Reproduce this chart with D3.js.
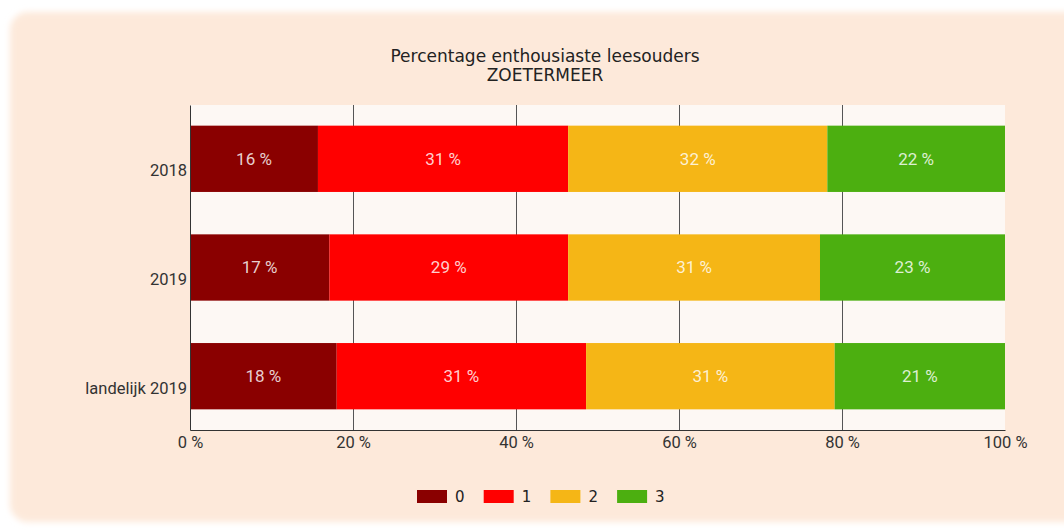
<!DOCTYPE html>
<html>
<head>
<meta charset="utf-8">
<script src="https://cdn.jsdelivr.net/npm/d3@7"></script>
<style>
  body { margin: 0; background: #fff; }
  svg { display: block; }
</style>
</head>
<body>
<div id="viz"></div>
<script>
const categories = ["2018", "2019", "landelijk 2019"];
const seriesKeys = ["0", "1", "2", "3"];
const score0 = [15.7, 17.1, 18.0];
const score1 = [30.7, 29.3, 30.6];
const score2 = [31.8, 30.9, 30.5];
const score3 = [21.8, 22.7, 20.9];
const xTicks = [0, 20, 40, 60, 80, 100];
const titleLines = ["Percentage enthousiaste leesouders", "ZOETERMEER"];

const colors = ["#8a0000", "#ff0000", "#f5b616", "#4caf10"];

const width = 1064, height = 531;
const margin = { top: 105, right: 59, bottom: 101, left: 190 };

const rows = categories.map((c, i) => ({
    cat: c, "0": score0[i], "1": score1[i], "2": score2[i], "3": score3[i]
}));
const stacked = d3.stack().keys(seriesKeys)(rows);

const svg = d3.select("#viz").append("svg")
    .attr("width", width)
    .attr("height", height);

const defs = svg.append("defs");
const blur = defs.append("filter").attr("id", "soft")
    .attr("x", "-5%").attr("y", "-5%").attr("width", "110%").attr("height", "110%");
blur.append("feGaussianBlur").attr("stdDeviation", 3);

// outer panel
svg.append("rect")
    .attr("x", 10).attr("y", 12)
    .attr("width", 1090).attr("height", 510)
    .attr("rx", 18)
    .attr("fill", "#fde9da")
    .attr("filter", "url(#soft)");

const x = d3.scaleLinear()
    .domain([0, 100])
    .range([margin.left, width - margin.right]);

const y = d3.scaleBand()
    .domain(categories)
    .range([margin.top, height - margin.bottom])
    .paddingInner(0.39)
    .paddingOuter(0.19);

// plot background
svg.append("rect")
    .attr("x", x(0)).attr("y", margin.top)
    .attr("width", x(100) - x(0))
    .attr("height", height - margin.bottom - margin.top)
    .attr("fill", "#fdf8f4");

// gridlines
svg.append("g")
    .selectAll("line")
    .data(xTicks.slice(1, -1))
    .join("line")
    .attr("x1", d => x(d)).attr("x2", d => x(d))
    .attr("y1", margin.top).attr("y2", height - margin.bottom)
    .attr("stroke", "#555")
    .attr("stroke-width", 1)
    .attr("shape-rendering", "crispEdges");

// bars
const layer = svg.append("g")
    .selectAll("g")
    .data(stacked)
    .join("g")
    .attr("fill", (d, i) => colors[i]);

layer.selectAll("rect")
    .data(d => d)
    .join("rect")
    .attr("x", d => x(d[0]))
    .attr("y", d => y(d.data.cat))
    .attr("width", d => x(d[1]) - x(d[0]))
    .attr("height", y.bandwidth());

layer.selectAll("text")
    .data(d => d.map(v => ({ v: v, key: d.key })))
    .join("text")
    .attr("x", d => (x(d.v[0]) + x(d.v[1])) / 2)
    .attr("y", d => y(d.v.data.cat) + y.bandwidth() / 2)
    .attr("dy", "0.35em")
    .attr("text-anchor", "middle")
    .attr("fill", "#fff")
    .attr("fill-opacity", 0.82)
    .style("font-family", "Roboto, sans-serif")
    .style("font-size", "17px")
    .text(d => Math.round(d.v.data[d.key]) + " %");

// axes
const xAxis = svg.append("g")
    .attr("transform", `translate(0,${height - margin.bottom})`)
    .call(d3.axisBottom(x).tickValues(xTicks).tickSize(0).tickPadding(6).tickFormat(d => d + " %"));
xAxis.select(".domain").attr("stroke", "#333");
xAxis.selectAll("text")
    .attr("fill", "#333")
    .style("font-family", "Roboto, sans-serif")
    .style("font-size", "16.5px");

const yAxis = svg.append("g")
    .attr("transform", `translate(${margin.left},0)`)
    .call(d3.axisLeft(y).tickSize(0).tickPadding(3));
yAxis.select(".domain").attr("stroke", "#333");
yAxis.selectAll("text")
    .attr("fill", "#333")
    .attr("dy", "1.05em")
    .style("font-family", "Roboto, sans-serif")
    .style("font-size", "16.5px");

// title
svg.append("g")
    .selectAll("text")
    .data(titleLines)
    .join("text")
    .attr("x", 545)
    .attr("y", (d, i) => 62 + i * 19)
    .attr("text-anchor", "middle")
    .attr("fill", "#222")
    .style("font-family", "DejaVu Sans, sans-serif")
    .style("font-size", "17px")
    .text(d => d);

// legend
const legend = svg.append("g")
    .selectAll("g")
    .data(seriesKeys)
    .join("g")
    .attr("transform", (d, i) => `translate(${417 + i * 66.7},490)`);
legend.append("rect")
    .attr("width", 30).attr("height", 13)
    .attr("fill", (d, i) => colors[i]);
legend.append("text")
    .attr("x", 38).attr("y", 7)
    .attr("dy", "0.35em")
    .attr("fill", "#222")
    .style("font-family", "DejaVu Sans, sans-serif")
    .style("font-size", "15px")
    .text(d => d);
</script>
</body>
</html>
